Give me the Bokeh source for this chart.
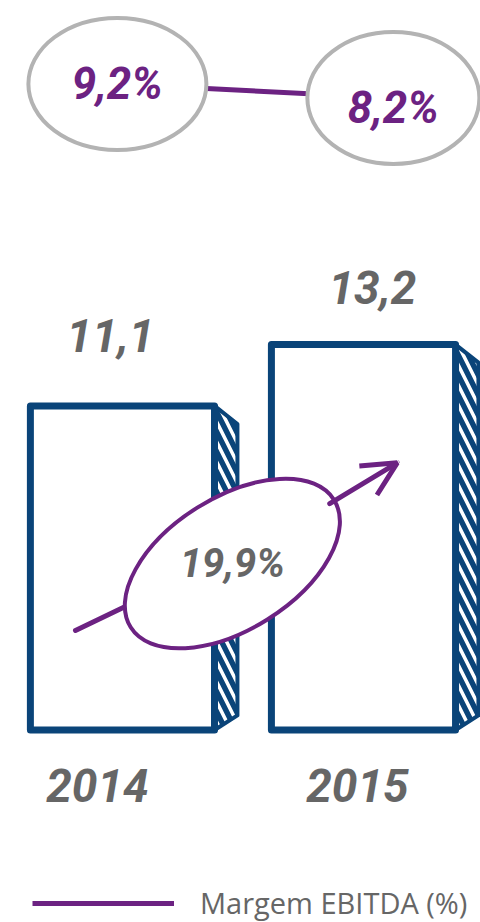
from bokeh.plotting import figure
from bokeh.models import Range1d, Arrow, OpenHead, Legend, LegendItem
from bokeh.core.properties import value
from bokeh.embed import file_html
from bokeh.resources import INLINE

# ---- data ----
years = ["2014", "2015"]
ebitda = [11.1, 13.2]            # bars
ebitda_labels = ["11,1", "13,2"]
margin = [9.2, 8.2]              # Margem EBITDA (%)
margin_labels = ["9,2%", "8,2%"]
growth_label = ["19,9%"]
legend_label = "Margem EBITDA (%)"

# ---- style / layout ----
BLUE = "#0A4479"
PURPLE = "#6C2282"
GRAY = "#666666"
ELL_GRAY = "#B3B3B3"
FONT = "Roboto"
W, H = 480, 922

idx = list(range(len(years)))
bar_w = 0.764
depth = 0.095

p = figure(width=W, height=H, output_backend="svg", toolbar_location=None,
           x_range=Range1d(-0.506, 1.4855), y_range=Range1d(-6.592, 24.983),
           min_border=0, outline_line_color=None, background_fill_color="white",
           border_fill_color="white")
p.axis.visible = False
p.grid.visible = False
p.extra_y_ranges = {"margin": Range1d(-50.275, 15.115)}

# bar side (3D hatched face)
side_xs, side_ys = [], []
for i, v in zip(idx, ebitda):
    r = i + bar_w / 2
    side_xs.append([r, r + depth, r + depth, r])
    side_ys.append([v, v - 0.62, 0.5, 0])
p.patches(side_xs, side_ys, fill_color=BLUE, line_color=BLUE, line_width=4,
          line_join="round", hatch_pattern="\\", hatch_color="white",
          hatch_weight=3.5, hatch_scale=20)

# bars
p.vbar(x=idx, top=ebitda, bottom=0, width=bar_w, fill_color="white",
       line_color=BLUE, line_width=7, line_join="round")

# value labels
vx = [i + dx for i, dx in zip(idx, [-0.05, 0.037])]
vy = [v + dy for v, dy in zip(ebitda, [2.4, 1.94])]
p.text(x=vx, y=vy, text=ebitda_labels, text_font=value(FONT), text_font_size="46px",
       text_font_style="bold italic", text_color=GRAY, text_align="center",
       text_baseline="middle")

# year labels
yx = [i + dx for i, dx in zip(idx, [-0.104, -0.025])]
p.text(x=yx, y=[-1.9, -1.9], text=years, text_font=value(FONT), text_font_size="46px",
       text_font_style="bold italic", text_color=GRAY, text_align="center",
       text_baseline="middle")

# growth arrow + ellipse
p.line(x=[-0.195, 0.012], y=[3.41, 4.23], line_color=PURPLE, line_width=5, line_cap="round")
p.add_layout(Arrow(x_start=0.86, y_start=7.75, x_end=1.14, y_end=9.15,
                   line_color=PURPLE, line_width=5, line_cap="round",
                   end=OpenHead(size=34, line_color=PURPLE, line_width=5)))
p.ellipse(x=[0.456], y=[5.70], width=240, height=132, width_units="screen",
          height_units="screen", angle=0.56, fill_color="white",
          line_color=PURPLE, line_width=4)
p.text(x=[0.456], y=[5.70], text=growth_label, text_font=value(FONT), text_font_size="40px",
       text_font_style="bold italic", text_color=GRAY, text_align="center",
       text_baseline="middle")

# margin line with ellipses
mx = [i + dx for i, dx in zip(idx, [-0.021, 1.124 - 1])]
mline = p.line(x=mx, y=margin, y_range_name="margin", line_color=PURPLE, line_width=5)
p.ellipse(x=mx, y=margin, y_range_name="margin", width=[178, 172], height=[132, 132],
          width_units="screen", height_units="screen", fill_color="white",
          line_color=ELL_GRAY, line_width=4)
p.text(x=mx, y=margin, y_range_name="margin", text=margin_labels, text_font=value(FONT),
       text_font_size="44px", text_font_style="bold italic", text_color=PURPLE,
       text_align="center", text_baseline="middle", y_offset=[0, 10])

legend = Legend(items=[LegendItem(label=legend_label, renderers=[mline])],
                location=(32, 0), orientation="horizontal", glyph_width=142,
                glyph_height=20, label_standoff=26, padding=0, margin=0,
                border_line_alpha=0, background_fill_alpha=0,
                label_text_font="Open Sans", label_text_font_size="29px",
                label_text_color=GRAY)
p.add_layout(legend, "center")

open("out.html", "w").write(file_html(p, INLINE))
